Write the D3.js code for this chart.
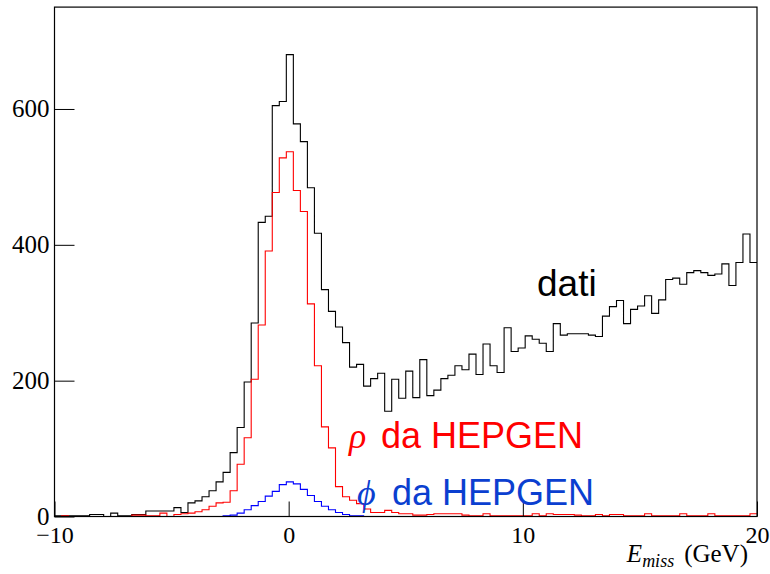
<!DOCTYPE html>
<html>
<head>
<meta charset="utf-8">
<script src="https://cdn.jsdelivr.net/npm/d3@7"></script>
<style>
  body { margin: 0; background: #fff; }
</style>
</head>
<body>
<div id="chart"></div>
<script>
// E_miss histograms, 100 bins of 0.3 GeV from -10 to 20
const xDomain = [-10, 20];
const yDomain = [0, 750];
const binWidth = 0.3;
const xTicks = [-10, 0, 10, 20];
const yTicks = [0, 200, 400, 600];

const dati = [
    1, 1, 1, 1, 1, 3, 3, 0, 5, 1,
    1, 3, 3, 8, 8, 8, 8, 13, 6, 20,
    23, 29, 38, 51, 65, 94, 131, 198, 285, 433,
    442, 605, 611, 680, 578, 552, 484, 417, 334, 302,
    279, 256, 220, 224, 192, 203, 211, 155, 202, 174,
    214, 175, 231, 178, 186, 203, 208, 222, 216, 239,
    209, 254, 222, 212, 278, 243, 248, 266, 261, 255,
    243, 284, 267, 269, 269, 269, 267, 265, 295, 309,
    318, 284, 305, 310, 325, 299, 319, 349, 351, 342,
    359, 362, 359, 355, 357, 372, 340, 374, 416, 374
];

const rhoHepgen = [
    0, 1, 0, 0, 0, 0, 0, 0, 0, 0,
    0, 2, 2, 1, 1, 5, 0, 3, 4, 5,
    7, 10, 15, 20, 21, 38, 77, 116, 202, 282,
    391, 477, 528, 537, 480, 449, 313, 222, 132, 101,
    44, 29, 24, 19, 11, 6, 6, 9, 6, 4,
    4, 2, 2, 3, 4, 4, 4, 4, 2, 1,
    1, 4, 1, 1, 1, 1, 1, 1, 4, 1,
    4, 3, 3, 3, 2, 1, 1, 3, 1, 3,
    3, 1, 1, 1, 4, 1, 1, 1, 1, 4,
    1, 1, 1, 4, 1, 1, 1, 1, 1, 4
];

const phiHepgen = [
    0, 0, 0, 0, 0, 0, 0, 0, 0, 0,
    0, 0, 0, 0, 0, 0, 0, 0, 0, 0,
    0, 0, 0, 0, 1, 2, 5, 10, 16, 22,
    30, 37, 47, 51, 48, 40, 31, 22, 15, 10,
    6, 3, 1, 1, 0, 0, 0, 0, 0, 0,
    0, 0, 0, 0, 0, 0, 0, 0, 0, 0,
    0, 0, 0, 0, 0, 0, 0, 0, 0, 0,
    0, 0, 0, 0, 0, 0, 0, 0, 0, 0,
    0, 0, 0, 0, 0, 0, 0, 0, 0, 0,
    0, 0, 0, 0, 0, 0, 0, 0, 0, 0
];

const width = 770, height = 574;
const frame = { left: 54.5, right: 757, top: 7.1, bottom: 516.5 };

const svg = d3.select("#chart")
    .append("svg")
    .attr("width", width)
    .attr("height", height);

const x = d3.scaleLinear().domain(xDomain).range([frame.left, frame.right]);
const y = d3.scaleLinear().domain(yDomain).range([frame.bottom, frame.top]);

// step outline: one point per bin low edge, plus the last high edge
function stepPoints(values) {
    const pts = values.map((v, i) => ({ e: xDomain[0] + i * binWidth, v: v }));
    pts.push({ e: xDomain[1], v: values[values.length - 1] });
    return pts;
}

const line = d3.line()
    .x(d => x(d.e))
    .y(d => y(d.v))
    .curve(d3.curveStepAfter);

const series = [
    { values: dati, color: "#000000" },
    { values: rhoHepgen, color: "#ff0000" },
    { values: phiHepgen, color: "#0000ff" }
];

svg.append("g")
    .selectAll("path")
    .data(series)
    .enter().append("path")
    .attr("d", d => line(stepPoints(d.values)))
    .style("fill", "none")
    .style("stroke", d => d.color)
    .style("stroke-width", 1.1);

// frame
svg.append("rect")
    .attr("x", frame.left)
    .attr("y", frame.top)
    .attr("width", frame.right - frame.left)
    .attr("height", frame.bottom - frame.top)
    .style("fill", "none")
    .style("stroke", "#000")
    .style("stroke-width", 1.2);

const yAxis = svg.append("g")
    .attr("transform", `translate(${frame.left},0)`)
    .call(d3.axisLeft(y).tickValues(yTicks).tickSize(-20).tickPadding(5));

const xAxis = svg.append("g")
    .attr("transform", `translate(0,${frame.bottom})`)
    .call(d3.axisBottom(x).tickValues(xTicks).tickSize(-15).tickPadding(9));

[xAxis, yAxis].forEach(a => {
    a.select(".domain").remove();
    a.selectAll(".tick line").style("stroke", "#000");
    a.selectAll(".tick text")
        .style("font-family", "'Liberation Serif', serif")
        .style("font-size", "24px")
        .style("fill", "#000");
});
yAxis.selectAll(".tick text").style("font-size", "25px");

// axis title
const title = svg.append("text")
    .attr("x", 748)
    .attr("y", 562)
    .attr("text-anchor", "end")
    .style("font-family", "'Liberation Serif', serif")
    .style("font-size", "25px")
    .style("fill", "#000");
title.append("tspan").style("font-style", "italic").text("E");
title.append("tspan").style("font-style", "italic").style("font-size", "18px")
    .attr("dy", 5).text("miss");
title.append("tspan").attr("dy", -5).attr("dx", 10).text("(GeV)");

// labels
svg.append("text")
    .attr("x", 537)
    .attr("y", 296)
    .style("font-family", "'Liberation Sans', Arial, sans-serif")
    .style("font-size", "37px")
    .style("fill", "#000")
    .text("dati");

const rhoLabel = svg.append("text")
    .attr("y", 448)
    .style("font-family", "'Liberation Sans', Arial, sans-serif")
    .style("font-size", "36px")
    .style("fill", "#ff0000");
rhoLabel.append("tspan").attr("x", 349)
    .style("font-family", "'Liberation Serif', serif").style("font-style", "italic")
    .text("ρ");
rhoLabel.append("tspan").attr("x", 381).text("da HEPGEN");

const phiLabel = svg.append("text")
    .attr("y", 505)
    .style("font-family", "'Liberation Sans', Arial, sans-serif")
    .style("font-size", "36px")
    .style("fill", "#0b3fd0");
phiLabel.append("tspan").attr("x", 357)
    .style("font-family", "'Liberation Serif', serif").style("font-style", "italic")
    .text("ϕ");
phiLabel.append("tspan").attr("x", 392).text("da HEPGEN");
</script>
</body>
</html>
